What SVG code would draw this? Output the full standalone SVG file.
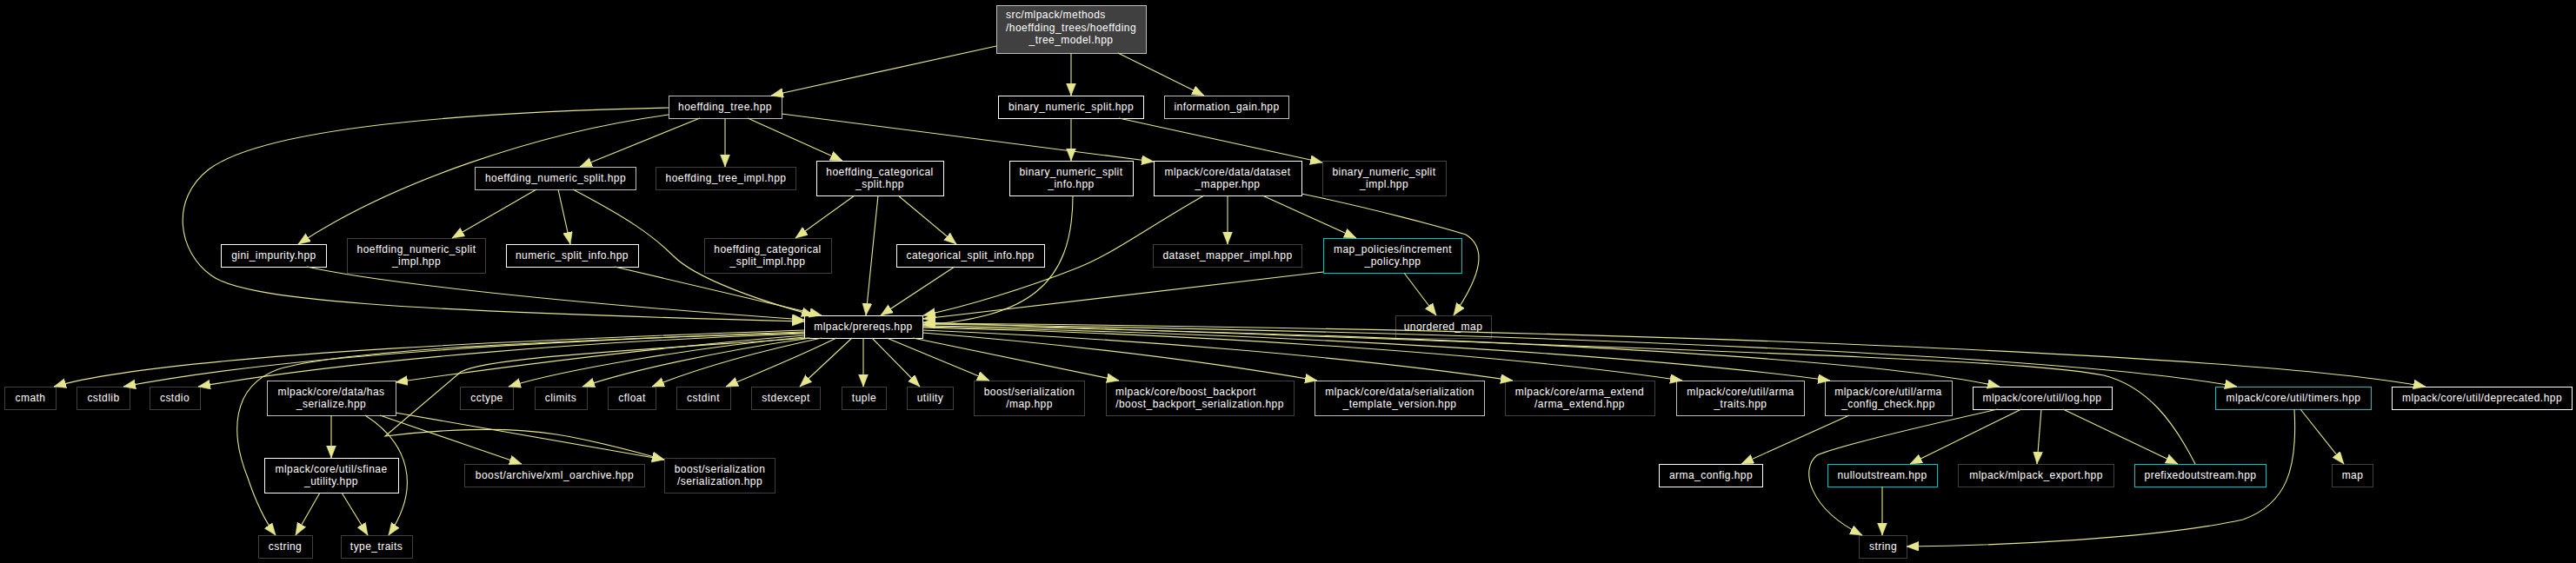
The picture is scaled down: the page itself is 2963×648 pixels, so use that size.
<svg xmlns="http://www.w3.org/2000/svg" width="2963" height="648" viewBox="0 0 2963 648">
<style>
.bg{fill:#000}
rect.n{fill:#000;stroke-width:1}
.w{stroke:#ffffff}
.g{stroke:#bfbfbf}
.d{stroke:#404040}
.c{stroke:#00c4c4}
text{font-family:"Liberation Sans",Arial,sans-serif;font-size:12px;fill:#fff;text-anchor:middle;letter-spacing:0.45px}
text.s{text-anchor:start}
#edges path{fill:none;stroke:#e6e68f;stroke-width:1.1;marker-end:url(#ah)}
</style>
<defs>
<marker id="ah" markerUnits="userSpaceOnUse" markerWidth="16" markerHeight="12" refX="14" refY="5.5" orient="auto"><path d="M0,0 L14,5.5 L0,11 z" fill="#e6e68f" stroke="#e6e68f" stroke-width="0.5"/></marker>
</defs>
<rect class="bg" x="0" y="0" width="2963" height="648"/>

<g id="n_root"><rect x="1146.5" y="6.5" width="172" height="55" fill="#404040" stroke="#bfbfbf"/><text class="s" x="1157" y="21.3">src/mlpack/methods</text><text class="s" x="1157" y="35.7">/hoeffding_trees/hoeffding</text><text x="1232" y="50">_tree_model.hpp</text></g>
<g id="n_ht"><rect class="n g" x="769.5" y="110.5" width="130" height="26"/><text x="834" y="126.5">hoeffding_tree.hpp</text></g>
<g id="n_bns"><rect class="n w" x="1148.5" y="110.5" width="167" height="26"/><text x="1232" y="126.5">binary_numeric_split.hpp</text></g>
<g id="n_ig"><rect class="n g" x="1339.5" y="110.5" width="143" height="26"/><text x="1411" y="126.5">information_gain.hpp</text></g>
<g id="n_hns"><rect class="n g" x="546.5" y="192.5" width="185" height="26"/><text x="639" y="208.5">hoeffding_numeric_split.hpp</text></g>
<g id="n_hti"><rect class="n d" x="754.5" y="192.5" width="161" height="26"/><text x="835" y="208.5">hoeffding_tree_impl.hpp</text></g>
<g id="n_hcs"><rect class="n w" x="939.5" y="185.5" width="146" height="40"/><text x="1012" y="202">hoeffding_categorical</text><text x="1012" y="216.3">_split.hpp</text></g>
<g id="n_bnsi"><rect class="n w" x="1161.5" y="185.5" width="142" height="40"/><text x="1232" y="202">binary_numeric_split</text><text x="1232" y="216.3">_info.hpp</text></g>
<g id="n_dm"><rect class="n w" x="1327.5" y="185.5" width="170" height="40"/><text x="1412" y="202">mlpack/core/data/dataset</text><text x="1412" y="216.3">_mapper.hpp</text></g>
<g id="n_bnsimpl"><rect class="n d" x="1521.5" y="185.5" width="142" height="40"/><text x="1592" y="202">binary_numeric_split</text><text x="1592" y="216.3">_impl.hpp</text></g>
<g id="n_gini"><rect class="n w" x="254.5" y="281.5" width="121" height="26"/><text x="315" y="297.5">gini_impurity.hpp</text></g>
<g id="n_hnsi"><rect class="n d" x="399.5" y="274.5" width="159" height="40"/><text x="479" y="291">hoeffding_numeric_split</text><text x="479" y="305.3">_impl.hpp</text></g>
<g id="n_nsi"><rect class="n w" x="582.5" y="281.5" width="152" height="26"/><text x="658" y="297.5">numeric_split_info.hpp</text></g>
<g id="n_hcsi"><rect class="n d" x="810.5" y="274.5" width="146" height="40"/><text x="883" y="291">hoeffding_categorical</text><text x="883" y="305.3">_split_impl.hpp</text></g>
<g id="n_csi"><rect class="n w" x="1031.5" y="281.5" width="170" height="26"/><text x="1116" y="297.5">categorical_split_info.hpp</text></g>
<g id="n_dmi"><rect class="n d" x="1326.5" y="281.5" width="171" height="26"/><text x="1412" y="297.5">dataset_mapper_impl.hpp</text></g>
<g id="n_mp"><rect class="n c" x="1522.5" y="274.5" width="159" height="40"/><text x="1602" y="291">map_policies/increment</text><text x="1602" y="305.3">_policy.hpp</text></g>
<g id="n_prereqs"><rect class="n w" x="925.5" y="363.5" width="136" height="26"/><text x="993" y="379.5">mlpack/prereqs.hpp</text></g>
<g id="n_um"><rect class="n d" x="1605.5" y="363.5" width="110" height="26"/><text x="1660" y="379.5">unordered_map</text></g>
<g id="n_cmath"><rect class="n d" x="5.5" y="445.5" width="59" height="26"/><text x="35" y="461.5">cmath</text></g>
<g id="n_cstdlib"><rect class="n d" x="88.5" y="445.5" width="61" height="26"/><text x="119" y="461.5">cstdlib</text></g>
<g id="n_cstdio"><rect class="n d" x="172.5" y="445.5" width="58" height="26"/><text x="201" y="461.5">cstdio</text></g>
<g id="n_hs"><rect class="n g" x="307.5" y="438.5" width="148" height="40"/><text x="381" y="455">mlpack/core/data/has</text><text x="381" y="469.3">_serialize.hpp</text></g>
<g id="n_cctype"><rect class="n d" x="529.5" y="445.5" width="61" height="26"/><text x="560" y="461.5">cctype</text></g>
<g id="n_climits"><rect class="n d" x="615.5" y="445.5" width="60" height="26"/><text x="645" y="461.5">climits</text></g>
<g id="n_cfloat"><rect class="n d" x="699.5" y="445.5" width="55" height="26"/><text x="727" y="461.5">cfloat</text></g>
<g id="n_cstdint"><rect class="n d" x="778.5" y="445.5" width="62" height="26"/><text x="809" y="461.5">cstdint</text></g>
<g id="n_stdexcept"><rect class="n d" x="864.5" y="445.5" width="79" height="26"/><text x="904" y="461.5">stdexcept</text></g>
<g id="n_tuple"><rect class="n d" x="968.5" y="445.5" width="51" height="26"/><text x="994" y="461.5">tuple</text></g>
<g id="n_utility"><rect class="n d" x="1043.5" y="445.5" width="53" height="26"/><text x="1070" y="461.5">utility</text></g>
<g id="n_bsmap"><rect class="n d" x="1120.5" y="438.5" width="127" height="40"/><text x="1184" y="455">boost/serialization</text><text x="1184" y="469.3">/map.hpp</text></g>
<g id="n_backport"><rect class="n d" x="1272.5" y="438.5" width="216" height="40"/><text class="s" x="1283" y="455">mlpack/core/boost_backport</text><text x="1380" y="469.3">/boost_backport_serialization.hpp</text></g>
<g id="n_stv"><rect class="n g" x="1512.5" y="438.5" width="195" height="40"/><text x="1610" y="455">mlpack/core/data/serialization</text><text x="1610" y="469.3">_template_version.hpp</text></g>
<g id="n_ae"><rect class="n d" x="1731.5" y="438.5" width="172" height="40"/><text x="1817" y="455">mlpack/core/arma_extend</text><text x="1817" y="469.3">/arma_extend.hpp</text></g>
<g id="n_at"><rect class="n g" x="1928.5" y="438.5" width="147" height="40"/><text x="2002" y="455">mlpack/core/util/arma</text><text x="2002" y="469.3">_traits.hpp</text></g>
<g id="n_acc"><rect class="n g" x="2099.5" y="438.5" width="146" height="40"/><text x="2172" y="455">mlpack/core/util/arma</text><text x="2172" y="469.3">_config_check.hpp</text></g>
<g id="n_log"><rect class="n w" x="2269.5" y="445.5" width="160" height="26"/><text x="2349" y="461.5">mlpack/core/util/log.hpp</text></g>
<g id="n_timers"><rect class="n c" x="2548.5" y="445.5" width="179" height="26"/><text x="2638" y="461.5">mlpack/core/util/timers.hpp</text></g>
<g id="n_dep"><rect class="n w" x="2751.5" y="445.5" width="207" height="26"/><text x="2855" y="461.5">mlpack/core/util/deprecated.hpp</text></g>
<g id="n_sfinae"><rect class="n w" x="304.5" y="527.5" width="154" height="40"/><text x="381" y="544">mlpack/core/util/sfinae</text><text x="381" y="558.3">_utility.hpp</text></g>
<g id="n_xml"><rect class="n d" x="534.5" y="534.5" width="207" height="26"/><text x="638" y="550.5">boost/archive/xml_oarchive.hpp</text></g>
<g id="n_bss"><rect class="n d" x="764.5" y="527.5" width="127" height="40"/><text x="828" y="544">boost/serialization</text><text x="828" y="558.3">/serialization.hpp</text></g>
<g id="n_ac"><rect class="n w" x="1908.5" y="534.5" width="119" height="26"/><text x="1968" y="550.5">arma_config.hpp</text></g>
<g id="n_null"><rect class="n c" x="2102.5" y="534.5" width="126" height="26"/><text x="2165" y="550.5">nulloutstream.hpp</text></g>
<g id="n_export"><rect class="n d" x="2252.5" y="534.5" width="179" height="26"/><text x="2342" y="550.5">mlpack/mlpack_export.hpp</text></g>
<g id="n_pre"><rect class="n c" x="2455.5" y="534.5" width="151" height="26"/><text x="2531" y="550.5">prefixedoutstream.hpp</text></g>
<g id="n_map"><rect class="n d" x="2682.5" y="534.5" width="47" height="26"/><text x="2706" y="550.5">map</text></g>
<g id="n_cstring"><rect class="n d" x="297.5" y="616.5" width="62" height="26"/><text x="328" y="632.5">cstring</text></g>
<g id="n_tt"><rect class="n d" x="392.5" y="616.5" width="82" height="26"/><text x="433" y="632.5">type_traits</text></g>
<g id="n_string"><rect class="n d" x="2138.5" y="616.5" width="55" height="26"/><text x="2166" y="632.5">string</text></g>

<g id="edges">
<path d="M1146,53 L887,110"/>
<path d="M1232,61 L1232,110"/>
<path d="M1286,61 L1385,110"/>
<path d="M805,136 L667,192"/>
<path d="M834,136 L834,192"/>
<path d="M860,136 L969,185"/>
<path d="M769,132 C620,152 450,210 343,281"/>
<path d="M769,124 C500,130 300,150 240,195 C195,230 205,290 243,317 C280,345 450,358 925,370"/>
<path d="M899,131 L1327,186"/>
<path d="M1232,136 L1232,185"/>
<path d="M1287,136 L1521,187"/>
<path d="M353,307 C420,322 600,345 925,368"/>
<path d="M617,218 L520,274"/>
<path d="M642,218 L656,281"/>
<path d="M659,218 C720,250 750,270 775,295 C800,320 870,345 936,363"/>
<path d="M707,307 L945,363"/>
<path d="M983,225 L915,274"/>
<path d="M1033,225 L1100,281"/>
<path d="M1010,225 L996,363"/>
<path d="M1098,307 L1013,363"/>
<path d="M1234,225 C1234,330 1180,365 1062,374"/>
<path d="M1412,225 L1412,281"/>
<path d="M1385,225 C1320,262 1280,292 1240,308 C1180,332 1110,353 1062,363"/>
<path d="M1452,225 L1560,274"/>
<path d="M1497,223 C1580,240 1660,262 1686,270 C1710,285 1705,315 1672,363"/>
<path d="M1615,314 L1652,363"/>
<path d="M1522,313 L1062,367"/>
<path d="M2525,534 C2500,485 2470,445 2420,432 C2330,415 2100,408 1062,371"/>
<path d="M925,380 C700,388 200,405 62,445"/>
<path d="M925,382 C700,390 350,405 142,445"/>
<path d="M925,384 C700,392 420,412 228,445"/>
<path d="M925,386 C750,400 560,425 455,440"/>
<path d="M925,383 C700,390 400,400 320,425 C265,445 265,500 285,550 C295,580 305,600 317,616"/>
<path d="M930,389 C700,405 560,412 530,428 L443,502 C500,495 580,490 640,500 C690,508 730,520 764,529"/>
<path d="M925,388 C800,400 650,425 585,445"/>
<path d="M932,389 C820,405 720,428 670,445"/>
<path d="M945,389 C870,405 800,425 750,445"/>
<path d="M962,389 C920,410 870,430 835,445"/>
<path d="M980,389 L920,445"/>
<path d="M993,389 L993,445"/>
<path d="M1003,389 L1058,445"/>
<path d="M1020,389 L1138,438"/>
<path d="M1050,389 L1287,438"/>
<path d="M1061,383 C1250,398 1400,418 1515,438"/>
<path d="M1061,380 C1300,390 1550,410 1740,438"/>
<path d="M1061,377 C1400,385 1750,410 1935,438"/>
<path d="M1061,376 C1500,385 1900,410 2105,438"/>
<path d="M1061,375 C1600,383 2150,410 2300,445"/>
<path d="M1061,373 C1800,383 2400,412 2573,445"/>
<path d="M1061,372 C1900,379 2600,410 2790,445"/>
<path d="M381,478 L381,527"/>
<path d="M420,478 C470,510 485,560 447,616"/>
<path d="M437,478 L600,534"/>
<path d="M455,475 L764,529"/>
<path d="M368,567 L340,616"/>
<path d="M393,567 L423,616"/>
<path d="M2127,478 L2003,534"/>
<path d="M2298,471 C2200,493 2110,515 2090,524 C2070,540 2080,585 2142,616"/>
<path d="M2325,471 L2197,534"/>
<path d="M2348,471 L2343,534"/>
<path d="M2373,471 L2505,534"/>
<path d="M2165,560 L2165,616"/>
<path d="M2646,471 L2696,534"/>
<path d="M2639,471 C2643,540 2630,580 2580,598 C2480,620 2300,628 2193,629"/>
</g>
</svg>
